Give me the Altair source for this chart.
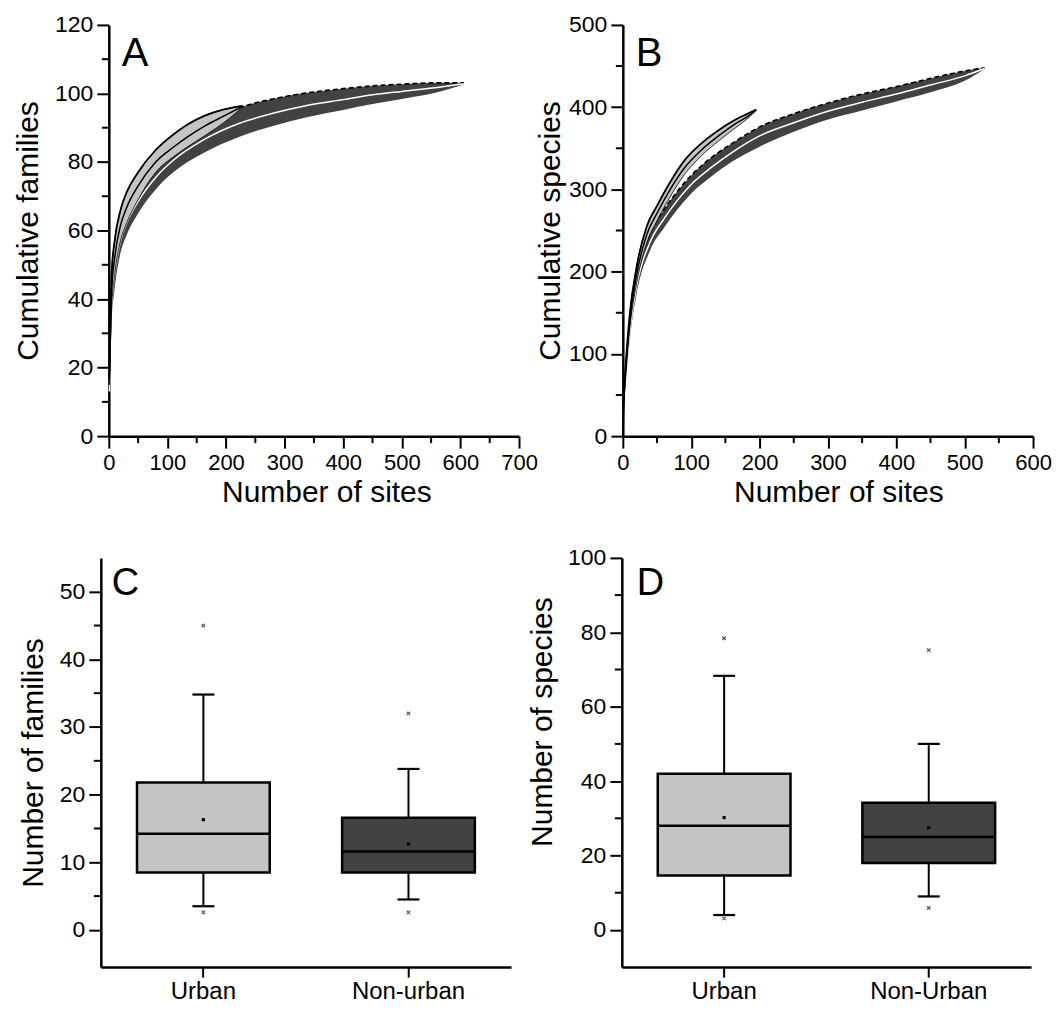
import altair as alt
import pandas as pd

# ---------------- Panel A: cumulative families ----------------
a_urb_sites = [1, 5, 10, 20, 30, 50, 80, 110, 135, 165, 195, 228]
a_urb_lower = [15, 38, 47, 57, 62, 69, 77, 81.5, 84.5, 87.8, 91.3, 96.0]
a_urb_mean = [16.5, 43, 52, 61.5, 66.5, 73, 80, 84.3, 87.4, 90.6, 93.3, 96.2]
a_urb_upper = [18, 48, 57, 66, 71, 77, 83.5, 88, 91, 93.6, 95.3, 96.4]

a_non_sites = [1, 5, 10, 20, 30, 50, 80, 110, 160, 223, 280, 336, 400, 450, 500, 564, 606]
a_non_lower = [12, 34, 43, 53.5, 58.5, 65, 72, 77, 82.5, 87.4, 90.5, 93, 95.2, 96.9, 98.4, 100.5, 102.6]
a_non_mean = [13, 38, 47, 57, 62, 68.5, 75.5, 80.5, 86.3, 91.3, 94.2, 96.4, 98.2, 99.6, 100.6, 101.8, 102.8]
a_non_upper = [14.2, 42.6, 51.6, 61, 66, 72.5, 79.5, 84.5, 90.7, 95.8, 98.4, 100.1, 101.4, 102.2, 102.7, 103.1, 103.1]

# ---------------- Panel B: cumulative species ----------------
b_urb_sites = [0, 1, 5, 10, 20, 35, 50, 70, 90, 115, 140, 165, 185, 195]
b_urb_lower = [0, 26, 81, 129, 185, 235, 262, 292, 318, 341, 359, 375, 388, 396]
b_urb_mean = [0, 30, 88, 138, 195, 245, 271, 301, 326, 348, 365, 380, 390, 396.5]
b_urb_upper = [0, 34, 95, 147, 205, 255, 280, 310, 335, 356, 372, 385, 393, 397]

b_non_sites = [0, 1, 5, 10, 20, 40, 60, 80, 100, 130, 160, 200, 250, 300, 350, 400, 450, 500, 529]
b_non_lower = [0, 23, 70, 116, 172, 226, 253, 276, 295, 316, 334, 352, 370, 385, 396, 407, 418, 432, 446]
b_non_mean = [0, 27, 78, 125, 182, 236, 264, 287, 306, 327, 345, 365, 381, 395, 406, 416, 427, 438, 447]
b_non_upper = [0, 31, 86, 134, 192, 246, 275, 298, 317, 339, 356, 376, 392, 405, 416, 425, 435, 444, 448]

# ---------------- Panel C: families per site ----------------
c_groups = ["Urban", "Non-urban"]
c_q1 = [8.5, 8.5]
c_q3 = [21.8, 16.6]
c_median = [14.2, 11.6]
c_mean = [16.3, 12.7]
c_whisk_lo = [3.5, 4.5]
c_whisk_hi = [34.8, 23.8]
c_out_hi = [45, 32]
c_out_lo = [2.6, 2.6]

# ---------------- Panel D: species per site ----------------
d_groups = ["Urban", "Non-Urban"]
d_q1 = [14.6, 18]
d_q3 = [42, 34.2]
d_median = [28, 25]
d_mean = [30.2, 27.5]
d_whisk_lo = [4, 9]
d_whisk_hi = [68.3, 50]
d_out_hi = [78.4, 75.2]
d_out_lo = [3.1, 5.9]

# tick values
a_x_major = [0, 100, 200, 300, 400, 500, 600, 700]
a_x_minor = [50, 150, 250, 350, 450, 550, 650]
a_y_major = [0, 20, 40, 60, 80, 100, 120]
a_y_minor = [10, 30, 50, 70, 90, 110]
b_x_major = [0, 100, 200, 300, 400, 500, 600]
b_x_minor = [50, 150, 250, 350, 450, 550]
b_y_major = [0, 100, 200, 300, 400, 500]
b_y_minor = [50, 150, 250, 350, 450]
c_y_major = [0, 10, 20, 30, 40, 50]
c_y_minor = [5, 15, 25, 35, 45]
d_y_major = [0, 20, 40, 60, 80, 100]
d_y_minor = [10, 30, 50, 70, 90]

LIGHT = "#c4c4c4"
DARK = "#424242"
FONT = "Liberation Sans"
W = 411
XMARK = "M -1 -1 L 1 1 M -1 1 L 1 -1"


def curve_panel(letter, urb, non, xdom, ydom, xmaj, xmin, ymaj, ymin, ytitle,
                H, title_x, ytitle_pad, shift=0):
    xs = alt.Scale(domain=xdom, nice=False, zero=False, range=[shift, W + shift])
    ys = alt.Scale(domain=ydom, nice=False, zero=False)
    xax = alt.Axis(values=xmaj, format="d", title="Number of sites",
                   titleX=title_x + shift, titlePadding=4, labelFontSize=22,
                   labelFlush=False)
    yax = alt.Axis(values=ymaj, format="d", title=ytitle, titlePadding=ytitle_pad,
                   offset=-shift, labelFlush=False)

    def X(f):
        return alt.X(f, type="quantitative", scale=xs, axis=xax)

    def Y(f):
        return alt.Y(f, type="quantitative", scale=ys, axis=yax)

    du = pd.DataFrame({"sites": urb[0], "lower": urb[1], "mean": urb[2], "upper": urb[3]})
    dn = pd.DataFrame({"sites": non[0], "lower": non[1], "mean": non[2], "upper": non[3]})

    non_area = alt.Chart(dn).mark_area(color=DARK, interpolate="monotone").encode(
        x=X("sites"), y=Y("lower"), y2="upper")
    non_up = alt.Chart(dn).mark_line(color="black", strokeWidth=1.6, strokeDash=[5, 3],
                                     interpolate="monotone").encode(x=X("sites"), y=Y("upper"))
    non_mean = alt.Chart(dn).mark_line(color="white", strokeWidth=1.5,
                                       interpolate="monotone").encode(x=X("sites"), y=Y("mean"))
    urb_area = alt.Chart(du).mark_area(color=LIGHT, stroke="black", strokeWidth=0.8,
                                       interpolate="monotone").encode(
        x=X("sites"), y=Y("lower"), y2="upper")
    urb_up = alt.Chart(du).mark_line(color="black", strokeWidth=1.8,
                                     interpolate="monotone").encode(x=X("sites"), y=Y("upper"))
    urb_mean = alt.Chart(du).mark_line(color="black", strokeWidth=1.5,
                                       interpolate="monotone").encode(x=X("sites"), y=Y("mean"))

    xminor = alt.Chart(pd.DataFrame({"sites": xmin})).mark_rule(color="black", strokeWidth=2).encode(
        x=X("sites"), y=alt.value(H), y2=alt.value(H + 7))
    yminor = alt.Chart(pd.DataFrame({"lower": ymin})).mark_rule(color="black", strokeWidth=2).encode(
        y=Y("lower"), x=alt.value(shift - 7), x2=alt.value(shift))
    lab = alt.Chart(pd.DataFrame({"t": [letter]})).mark_text(
        font=FONT, fontSize=40, align="left", baseline="alphabetic", color="black").encode(
        text="t:N", x=alt.value(13 + shift), y=alt.value(41))
    return alt.layer(non_area, non_up, non_mean, urb_area, urb_up, urb_mean,
                     xminor, yminor, lab).properties(width=W + shift, height=H)


def box_panel(letter, groups, q1, q3, med, mean, wlo, whi, olo, ohi, ydom, ymaj, ymin,
              ytitle, H, Wp, ytitle_pad, title_y=None, letter_x=12):
    d = pd.DataFrame({"group": groups, "q1": q1, "q3": q3, "med": med, "mean": mean,
                      "wlo": wlo, "whi": whi, "olo": olo, "ohi": ohi,
                      "color": [LIGHT, DARK]})
    xs = alt.Scale(domain=groups, paddingInner=0, paddingOuter=0)
    ys = alt.Scale(domain=ydom, nice=False, zero=False)
    xax = alt.Axis(title=None, labelAngle=0, labelFontSize=24, labelPadding=2, tickSize=10)
    yargs = dict(values=ymaj, format="d", title=ytitle, titlePadding=ytitle_pad,
                 labelFlush=False)
    if title_y is not None:
        yargs["titleY"] = title_y
    yax = alt.Axis(**yargs)

    def X():
        return alt.X("group", type="nominal", scale=xs, axis=xax, sort=groups)

    def Y(f):
        return alt.Y(f, type="quantitative", scale=ys, axis=yax)

    base = alt.Chart(d)
    w_hi = base.mark_rule(color="black", strokeWidth=2).encode(x=X(), y=Y("q3"), y2="whi")
    w_lo = base.mark_rule(color="black", strokeWidth=2).encode(x=X(), y=Y("wlo"), y2="q1")
    box = base.mark_bar(size=133, stroke="black", strokeWidth=2.5).encode(
        x=X(), y=Y("q1"), y2="q3", fill=alt.Fill("color:N", scale=None))
    medt = base.mark_tick(size=133, thickness=2.5, color="black", opacity=1).encode(x=X(), y=Y("med"))
    cap_hi = base.mark_tick(size=22, thickness=2.2, color="black", opacity=1).encode(x=X(), y=Y("whi"))
    cap_lo = base.mark_tick(size=22, thickness=2.2, color="black", opacity=1).encode(x=X(), y=Y("wlo"))
    meanp = base.mark_square(size=10, color="black", opacity=1).encode(x=X(), y=Y("mean"))
    o_hi = base.mark_point(shape=XMARK, size=12, filled=False, stroke="#555555", strokeWidth=1.2,
                           opacity=1).encode(x=X(), y=Y("ohi"))
    o_lo = base.mark_point(shape=XMARK, size=12, filled=False, stroke="#555555", strokeWidth=1.2,
                           opacity=1).encode(x=X(), y=Y("olo"))
    yminor = alt.Chart(pd.DataFrame({"q1": ymin})).mark_rule(color="black", strokeWidth=2).encode(
        y=Y("q1"), x=alt.value(-7), x2=alt.value(0))
    lab = alt.Chart(pd.DataFrame({"t": [letter]})).mark_text(
        font=FONT, fontSize=38, align="left", baseline="alphabetic", color="black").encode(
        text="t:N", x=alt.value(letter_x), y=alt.value(37))
    return alt.layer(w_hi, w_lo, box, medt, cap_hi, cap_lo, meanp, o_hi, o_lo,
                     yminor, lab).properties(width=Wp, height=H)


A = curve_panel("A", (a_urb_sites, a_urb_lower, a_urb_mean, a_urb_upper),
                (a_non_sites, a_non_lower, a_non_mean, a_non_upper),
                [0, 700], [0, 120], a_x_major, a_x_minor, a_y_major, a_y_minor,
                "Cumulative families", 412, 218, 11, shift=8)
B = curve_panel("B", (b_urb_sites, b_urb_lower, b_urb_mean, b_urb_upper),
                (b_non_sites, b_non_lower, b_non_mean, b_non_upper),
                [0, 600], [0, 500], b_x_major, b_x_minor, b_y_major, b_y_minor,
                "Cumulative species", 412, 216, 3)
C = box_panel("C", c_groups, c_q1, c_q3, c_median, c_mean, c_whisk_lo, c_whisk_hi,
              c_out_lo, c_out_hi, [-5.5, 55], c_y_major, c_y_minor,
              "Number of families", 410, 411, 11, letter_x=11)
D = box_panel("D", d_groups, d_q1, d_q3, d_median, d_mean, d_whisk_lo, d_whisk_hi,
              d_out_lo, d_out_hi, [-10, 100], d_y_major, d_y_minor,
              "Number of species", 410, 410, 10, title_y=164, letter_x=15)

top = alt.hconcat(A, B, spacing=104, bounds="flush")
bottom = alt.hconcat(C, D, spacing=111, bounds="flush")

chart = alt.vconcat(top, bottom, spacing=40).properties(
    padding={"left": 5, "top": 5, "right": 2, "bottom": 0}
).configure_view(stroke=None).configure_axis(
    domainColor="black", domainWidth=2.5, tickColor="black", tickWidth=2, tickSize=12,
    labelFont=FONT, labelFontSize=23, labelColor="black", labelPadding=4,
    titleFont=FONT, titleFontSize=30, titleFontWeight="normal", titleColor="black",
    grid=False
)

chart.save("out.html", embed_options={"renderer": "svg", "actions": False})
